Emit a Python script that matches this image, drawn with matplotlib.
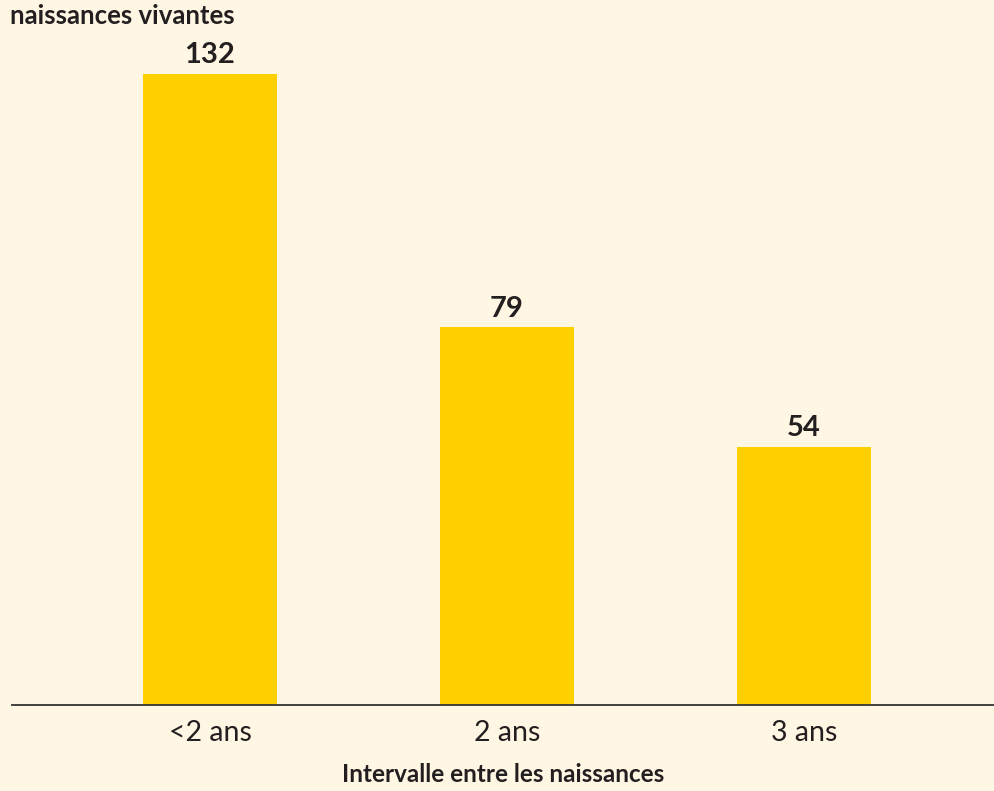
import matplotlib.pyplot as plt

# live births per interval between births
categories = ['<2 ans', '2 ans', '3 ans']
values = [132, 79, 54]

bg = '#FFF7E4'
bar_color = '#FFD000'
text_color = '#231F20'

plt.rcParams['font.family'] = ['Lato', 'DejaVu Sans']

fig = plt.figure(figsize=(9.95, 7.91), dpi=100, facecolor=bg)
ax = fig.add_axes([0.012, 0.1087, 0.988, 0.8913])
ax.set_facecolor(bg)

x = list(range(len(categories)))
bars = ax.bar(x, values, width=0.451, color=bar_color)

for b, v in zip(bars, values):
    ax.text(b.get_x() + b.get_width() / 2, v + 1.2, str(v),
            ha='center', va='bottom', fontsize=21, fontweight='bold',
            color=text_color)

ax.set_xlim(-0.667, 2.643)
ax.set_ylim(0, 147.5)

for s in ['top', 'right', 'left']:
    ax.spines[s].set_visible(False)
ax.spines['bottom'].set_color('#333333')
ax.spines['bottom'].set_linewidth(1.3)

ax.set_yticks([])
ax.set_xticks(x)
ax.set_xticklabels(categories, fontsize=20.5, color=text_color)
ax.tick_params(axis='x', length=0, pad=11)

ax.set_xlabel('Intervalle entre les naissances', fontsize=17.5,
              fontweight='bold', color=text_color, labelpad=12)

fig.text(0.010, 0.995, 'naissances vivantes', ha='left', va='top',
         fontsize=18.5, fontweight='bold', color=text_color)

fig.savefig('out.png', dpi=100, facecolor=bg)
